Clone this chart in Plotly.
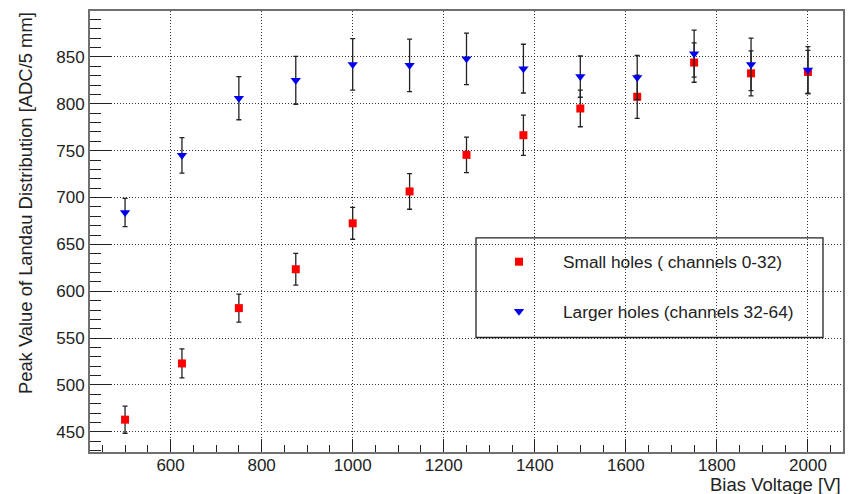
import plotly.graph_objects as go

voltage = [500, 625, 750, 875, 1000, 1125, 1250, 1375, 1500, 1625, 1750, 1875, 2000]

small_peak = [463, 523, 582, 623.5, 672.5, 706.5, 745.5, 766.5, 795, 807.5, 844, 832.5, 834]
small_err = [14.5, 15.5, 15, 17, 17, 19, 19, 21.5, 19.5, 23, 21, 24, 23]

large_peak = [684, 745, 806, 825, 842, 841, 848, 837.5, 829, 828, 853.5, 842, 836]
large_err = [15, 19, 23, 25.5, 27.5, 28, 27.5, 26, 22, 23.5, 25, 28, 25]

legend_names = ["Small holes ( channels 0-32)", "Larger holes (channels 32-64)"]
x_title = "Bias Voltage [V]"
y_title = "Peak Value of Landau Distribution [ADC/5 mm]"

FONT = "Liberation Sans, Arial, Helvetica, sans-serif"

fig = go.Figure()
fig.add_trace(go.Scatter(
    x=voltage, y=small_peak, mode="markers", name=legend_names[0],
    marker=dict(symbol="square", color="#ff0000", size=8, line=dict(width=0)),
    error_y=dict(type="data", array=small_err, visible=True, color="#222222", thickness=1.3, width=2.5),
    legendgroup="a",
))
fig.add_trace(go.Scatter(
    x=voltage, y=large_peak, mode="markers", name=legend_names[1],
    marker=dict(symbol="triangle-down", color="#0000ee", size=9, line=dict(width=0)),
    error_y=dict(type="data", array=large_err, visible=True, color="#222222", thickness=1.3, width=2.5),
    legendgroup="b",
))

L, R, T, B = 90, 13, 9, 42
W, H = 856, 494
pw = W - L - R
ph = H - T - B

fig.update_layout(
    width=W, height=H,
    margin=dict(l=L, r=R, t=T, b=B, pad=0),
    paper_bgcolor="white", plot_bgcolor="white",
    font=dict(family=FONT, size=17, color="#222222"),
    showlegend=True,
    legend=dict(
        x=(475 - L) / pw, y=(H - B - 243) / ph, xanchor="left", yanchor="top",
        bgcolor="rgba(0,0,0,0)", borderwidth=0,
        font=dict(family=FONT, size=17.3, color="#222222"),
        tracegroupgap=24, itemwidth=78,
    ),
    xaxis=dict(
        range=[423, 2077], dtick=200, tick0=0,
        showline=True, linecolor="#707070", linewidth=2, mirror=True,
        ticks="inside", ticklen=13, tickwidth=1.3, tickcolor="#222222",
        showgrid=True, gridcolor="#333333", griddash="1px,2px", gridwidth=1,
        zeroline=False, ticklabelstandoff=-3,
        minor=dict(ticks="inside", ticklen=7, dtick=50, tickcolor="#222222", tickwidth=1.2, showgrid=False),
        tickfont=dict(size=17),
    ),
    yaxis=dict(
        range=[428.5, 899], dtick=50, tick0=0,
        showline=True, linecolor="#707070", linewidth=2, mirror=True,
        ticks="inside", ticklen=22, tickwidth=1.3, tickcolor="#222222",
        showgrid=True, gridcolor="#333333", griddash="1px,2px", gridwidth=1,
        zeroline=False,
        minor=dict(ticks="inside", ticklen=11, dtick=10, tickcolor="#222222", tickwidth=1.2, showgrid=False),
        tickfont=dict(size=17),
    ),
    shapes=[dict(
        type="rect", xref="paper", yref="paper",
        x0=(476 - L) / pw, x1=(823 - L) / pw,
        y0=(H - B - 337) / ph, y1=(H - B - 237) / ph,
        line=dict(color="#222222", width=1.3), fillcolor="rgba(0,0,0,0)",
    )],
    annotations=[
        dict(text=x_title, xref="paper", yref="paper", x=1, y=-(485 - (H - B)) / ph,
             xanchor="right", yanchor="middle", showarrow=False,
             font=dict(family=FONT, size=18.5, color="#222222")),
        dict(text=y_title, xref="paper", yref="paper", x=(25 - L) / pw, y=1.002,
             xanchor="center", yanchor="top", textangle=-90, showarrow=False,
             font=dict(family=FONT, size=18.4, color="#222222")),
    ],
)

fig.write_html("out.html")
